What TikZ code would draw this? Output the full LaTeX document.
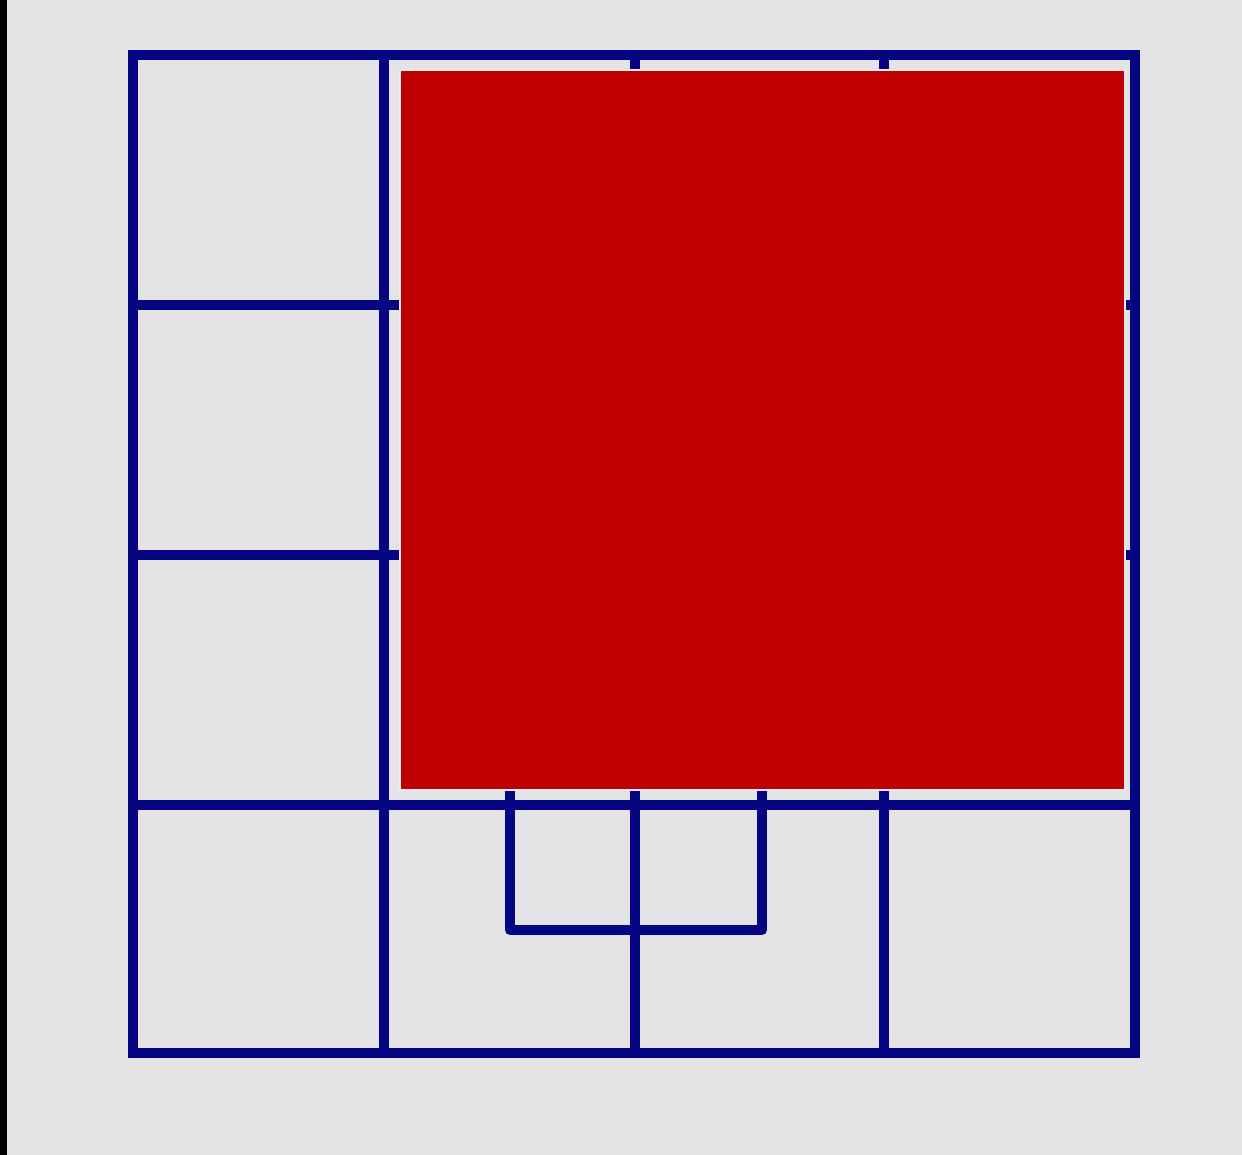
\documentclass[tikz,border=0pt]{standalone}
\usepackage{tikz}
\usepackage{xcolor}
\definecolor{gridblue}{RGB}{6,6,130}
\definecolor{boxred}{RGB}{192,0,0}
\definecolor{paper}{RGB}{228,228,230}
\begin{document}
\begin{tikzpicture}[x=0.01cm,y=-0.01cm]
  \useasboundingbox (0,0) rectangle (1242,1155);
  \fill[paper] (0,0) rectangle (1242,1155);
  \fill[black] (0,0) rectangle (7,1155);
  % grid
  \draw[gridblue,line width=0.1cm] (133,55) rectangle (1135,1053);
  \foreach \x in {384,635,884} \draw[gridblue,line width=0.1cm] (\x,55) -- (\x,1053);
  \foreach \y in {305,555,805} \draw[gridblue,line width=0.1cm] (133,\y) -- (1135,\y);
  \draw[gridblue,line width=0.1cm,line join=round] (510,680) rectangle (762,930);
  % cover
  \fill[boxred,draw=white!85!gray,line width=0.025cm] (400,70) rectangle (1125,790);
\end{tikzpicture}
\end{document}
